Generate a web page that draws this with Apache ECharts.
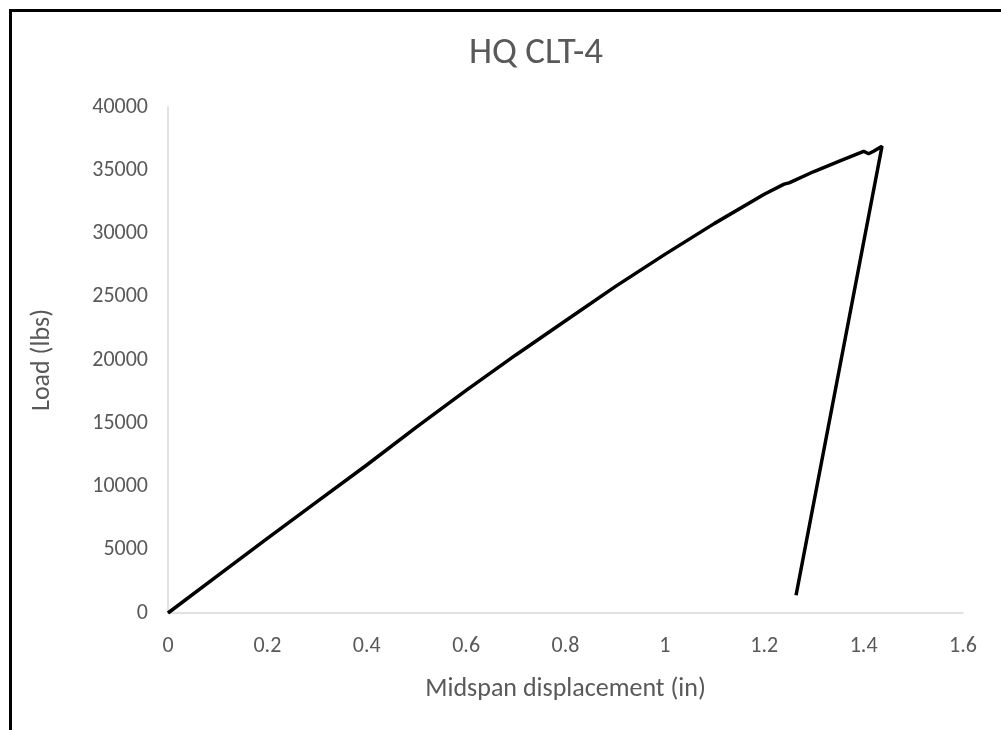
<!DOCTYPE html>
<html>
<head>
<meta charset="utf-8">
<script src="https://cdn.jsdelivr.net/npm/echarts@6/dist/echarts.min.js"></script>
<style>
html,body{margin:0;padding:0;background:#fff;}
#chart{width:1001px;height:730px;}
</style>
</head>
<body>
<div id="chart"></div>
<script>
const title = 'HQ CLT-4';
const xName = 'Midspan displacement (in)';
const yName = 'Load (lbs)';
const displacement = [0, 0.1, 0.2, 0.3, 0.4, 0.5, 0.6, 0.7, 0.8, 0.9, 1.0, 1.1, 1.2, 1.24, 1.25, 1.3, 1.35, 1.4, 1.41, 1.42, 1.437, 1.264];
const load = [0, 2950, 5900, 8800, 11700, 14700, 17600, 20400, 23100, 25800, 28350, 30800, 33100, 33900, 34000, 34900, 35700, 36500, 36300, 36500, 36900, 1400];
const xTicks = [0, 0.2, 0.4, 0.6, 0.8, 1, 1.2, 1.4, 1.6];
const yTicks = [0, 5000, 10000, 15000, 20000, 25000, 30000, 35000, 40000];

const FONT = "'Carlito','Liberation Sans Narrow','DejaVu Sans Condensed','Liberation Sans',sans-serif";
const chart = echarts.init(document.getElementById('chart'));
chart.setOption({
  animation: false,
  backgroundColor: '#fff',
  title: {
    text: title, left: 531, top: 30, textAlign: 'center',
    textStyle: {color: '#595959', fontSize: 37, fontWeight: 'normal', fontFamily: FONT}
  },
  graphic: [{
    type: 'rect', left: 8, top: 8, silent: true,
    shape: {width: 1100, height: 800},
    style: {fill: 'none', stroke: '#000', lineWidth: 3}
  }],
  grid: {left: 168, right: 38, top: 107, bottom: 117},
  xAxis: {
    type: 'value', min: xTicks[0], max: xTicks[xTicks.length-1], interval: 0.2,
    name: xName, nameLocation: 'middle', nameGap: 63,
    nameTextStyle: {color: '#595959', fontSize: 26, fontFamily: FONT},
    axisLine: {show: true, lineStyle: {color: '#d9d9d9', width: 1.5}},
    axisTick: {show: false}, splitLine: {show: false},
    axisLabel: {color: '#595959', fontSize: 22, fontFamily: FONT, margin: 22,
      formatter: v => String(parseFloat(v.toFixed(1)))}
  },
  yAxis: {
    type: 'value', min: yTicks[0], max: yTicks[yTicks.length-1], interval: 5000,
    name: yName, nameLocation: 'middle', nameGap: 113, nameRotate: 90,
    nameTextStyle: {color: '#595959', fontSize: 26, fontFamily: FONT},
    axisLine: {show: true, lineStyle: {color: '#d9d9d9', width: 1.5}},
    axisTick: {show: false}, splitLine: {show: false},
    axisLabel: {color: '#595959', fontSize: 22, fontFamily: FONT, margin: 20,
      formatter: v => String(v)}
  },
  series: [{
    type: 'line', data: displacement.map((x, i) => [x, load[i]]),
    showSymbol: false, symbol: 'none',
    lineStyle: {color: '#000', width: 3.5}
  }]
});
</script>
</body>
</html>
